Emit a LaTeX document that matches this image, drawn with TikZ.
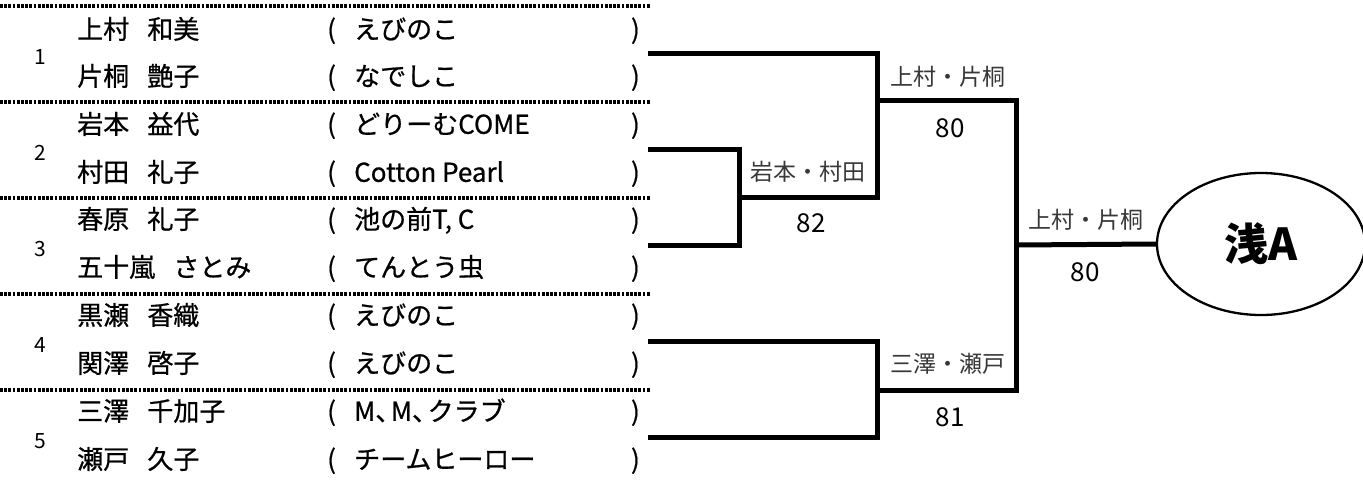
\documentclass[tikz,border=0pt]{standalone}
\usepackage{fontspec}
\newfontfamily\cjk{Noto Sans CJK JP}
\newfontfamily\cjkb{Noto Sans CJK JP}[FakeBold=0.7]
\newcommand{\hcomma}{\makebox[0.6em][l]{、}}
\usetikzlibrary{shapes.geometric}
\begin{document}
\begin{tikzpicture}[x=1pt,y=-1pt,
  txt/.style={inner sep=0pt, anchor=west, font=\cjkb\fontsize{26}{30}\selectfont, text height=0.88em, text depth=0.12em},
  num/.style={inner sep=0pt, font=\cjk\fontsize{21}{24}\selectfont},
  lbl/.style={inner sep=0pt, font=\cjk\fontsize{23}{26}\selectfont, text=black!78, text height=0.88em, text depth=0.12em},
  score/.style={inner sep=0pt, font=\cjk\fontsize{26}{30}\selectfont},
  sepline/.style={line width=3.3pt, dash pattern=on 2.8pt off 1.4pt},
  br/.style={line width=5pt, line join=miter}]
\useasboundingbox (0,0) rectangle (1363,485);
% separators
\foreach \d in {6,102,198,294,390}{
  \draw[sepline] (0,\d) -- (650,\d);
}
% group numbers
\foreach \k/\d in {1/6,2/102,3/198,4/294,5/390}{
  \node[num] (n\k) at (40,\d+51) {\k};
}
% names and teams
\foreach \i/\y/\fam/\giv/\team in {
  1/35/上村/和美/えびのこ,
  2/82/片桐/艶子/なでしこ,
  3/130/岩本/益代/どりーむCOME,
  4/178/村田/礼子/Cotton Pearl,
  5/225/春原/礼子/{池の前T, C},
  6/273/五十嵐/さとみ/てんとう虫,
  7/321/黒瀬/香織/えびのこ,
  8/369/関澤/啓子/えびのこ,
  9/417/三澤/千加子/M\hcomma M\hcomma クラブ,
  10/465/瀬戸/久子/チームヒーロー}{
  \node[txt] (p\i) at (77,\y) {\fam\hspace{0.7em}\giv};
  \node[txt] (lp\i) at (327,\y) {(};
  \node[txt] (tm\i) at (354,\y) {\team};
  \node[txt, anchor=east] (rp\i) at (640,\y) {)};
}
% bracket coordinates
\coordinate (t1) at (648,53);
\coordinate (t2) at (648,149);
\coordinate (t3) at (648,245);
\coordinate (t4) at (648,341);
\coordinate (t5) at (648,437);
\coordinate (j23) at (739,197);
\coordinate (j1b) at (877,197);
\coordinate (j1) at (877,100);
\coordinate (r2a) at (1016,100);
\coordinate (r2b) at (1016,390);
\coordinate (j45) at (877,390);
\coordinate (jf) at (1016,245);
% final ellipse
\node[draw, ellipse, line width=2.3pt, minimum width=208pt, minimum height=142pt, inner sep=0pt,
      font=\cjk\bfseries\fontsize{44}{48}\selectfont] (final) at (1261,244) {浅A};
% brackets
\draw[br] (t2) -| (j23) |- (t3);
\draw[br] (t1) -| (j1b) -- (j23);
\draw[br] (t4) -| (j45) |- (t5);
\draw[br] (j1) -- (r2a) -- (r2b) -- (j45);
\draw[br] (jf) -- (final.west);
% labels
\node[lbl] (w23) at (808,177) {岩本・村田};
\node[score] (s23) at (811,223) {82};
\node[lbl] (w1) at (948,82) {上村・片桐};
\node[score] (s1) at (950,128) {80};
\node[lbl] (w45) at (948,369) {三澤・瀬戸};
\node[score] (s45) at (950,417) {81};
\node[lbl] (wf) at (1086,225) {上村・片桐};
\node[score] (sf) at (1085,272) {80};
\end{tikzpicture}
\end{document}
